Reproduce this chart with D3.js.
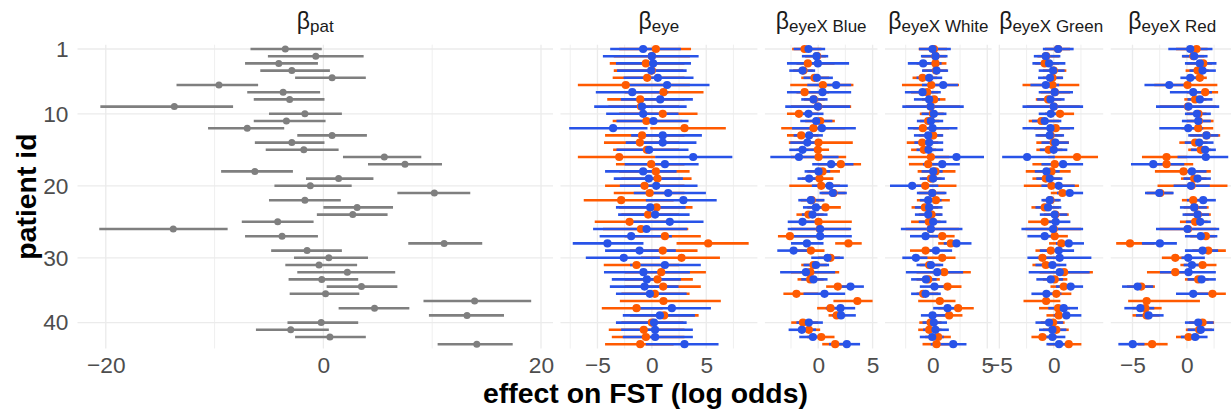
<!DOCTYPE html>
<html>
<head>
<meta charset="utf-8">
<script src="https://cdn.jsdelivr.net/npm/d3@7"></script>
<style>
  body { margin: 0; background: #fff; }
  text { font-family: "Liberation Sans", Arial, Helvetica, sans-serif; }
</style>
</head>
<body>
<div id="chart"></div>
<script>
var svgWidth = 1231;
var svgHeight = 414;

// patient ids (33 is absent)
var ids = [1,2,3,4,5,6,7,8,9,10,11,12,13,14,15,16,17,18,19,20,21,22,23,24,25,26,27,28,29,30,31,32,
           34,35,36,37,38,39,40,41,42,43];
var yTicks = [1, 10, 20, 30, 40];

// beta_pat: lower, estimate, upper
var patLo  = [-6.7,-5.1,-7.2,-5.8,-2.6,-13.5,-7.0,-6.4,-20.5,-5.0,-6.4,-10.6,-2.4,-6.3,-5.3,1.8,4.1,-9.4,-1.6,-4.5,6.8,-5.0,0.0,-0.6,-7.5,-20.6,
              -7.2,7.8,-4.8,-2.7,-3.5,-2.4,-3.2,0.3,-3.1,9.2,1.4,9.7,-3.3,-6.2,-2.6,10.5];
var patEst = [-3.5,-0.7,-4.1,-2.9,0.8,-9.6,-3.7,-3.1,-13.7,-1.7,-3.4,-7.0,0.8,-2.9,-1.8,5.6,7.5,-6.3,1.4,-1.2,10.2,-1.7,3.1,2.7,-4.2,-13.8,
              -3.8,11.1,-1.5,0.5,-0.4,2.2,-0.15,3.5,0.2,13.9,4.7,13.2,-0.2,-3.0,0.6,14.1];
var patHi  = [-0.15,3.7,-0.5,0.6,3.9,-6.0,-0.3,0.1,-8.3,1.7,0.2,-3.6,4.0,0.1,1.4,9.0,10.9,-2.8,4.6,2.6,13.5,1.6,6.4,5.9,-0.9,-8.8,
              -0.5,14.6,1.7,4.1,3.1,6.6,3.2,6.8,3.3,19.1,7.9,16.6,3.2,0.5,3.9,17.4];

// eye effects: [lower, estimate, upper] per patient, orange and blue series
var eyeOrange = [[-3.0,0.37,3.6],[-3.5,0.0,3.5],[-3.87,-0.55,3.0],[-3.5,0.0,2.9],[-3.6,-0.43,3.0],[-6.8,-2.4,3.5],[-2.5,1.07,4.75],
  [-4.1,-1.07,3.0],[-4.0,-1.0,2.5],[-3.0,1.0,4.2],[-3.6,-0.5,2.8],[-0.15,3.0,6.8],[-4.3,-0.9,3.0],[-4.4,-1.1,2.5],[-3.56,-0.46,2.5],
  [-6.8,-3.0,0.3],[-3.3,-0.06,3.0],[-3.0,0.37,3.47],[-2.8,0.52,3.65],[-4.3,-0.67,3.0],[-3.5,-0.2,3.0],[-6.26,-2.82,2.0],[-3.0,0.43,3.74],
  [-2.8,-0.34,2.5],[-5.25,-2.05,1.5],[-4.5,-1.0,3.35],[-2.5,1.2,4.5],[2.27,5.18,8.9],[-2.0,1.0,4.2],[-1.0,2.73,6.26],[-4.42,-1.41,2.5],
  [-2.5,0.86,4.97],[-2.5,0.52,3.77],[-2.5,1.04,4.5],[-2.8,0.28,3.47],[-2.94,1.07,6.34],[-4.6,-1.41,1.0],[-2.0,1.13,4.3],[-2.8,0.0,2.9],
  [-3.96,-0.74,3.0],[-3.68,-0.55,3.0],[-4.3,-1.07,2.0]];
var eyeBlue = [[-3.83,-0.8,2.67],[-4.5,0.0,4.3],[-3.3,0.12,3.6],[-3.2,-0.06,3.2],[-2.6,0.55,3.83],[-2.4,1.4,5.3],[-5.15,-1.8,1.5],
  [-2.85,0.77,3.77],[-5.3,-0.9,3.2],[-4.2,-0.8,2.45],[-3.25,0.15,3.37],[-7.6,-3.56,-0.4],[-1.9,1.0,4.6],[-2.4,1.0,4.1],[-3.25,-0.25,3.37],
  [0.3,3.8,7.4],[-2.5,1.2,4.3],[-4.3,-0.8,2.27],[-3.5,-0.28,2.85],[-2.94,0.4,4.2],[-1.66,1.5,4.97],[-0.55,2.9,5.96],[-3.3,-0.15,3.1],
  [-3.1,0.3,3.47],[-1.8,1.65,4.75],[-5.4,-0.49,3.25],[-4.8,-1.9,1.84],[-7.27,-4.08,-0.77],[-4.3,-1.13,2.2],[-6.07,-2.58,0.74],[-2.0,1.2,4.5],
  [-4.4,-0.77,3.5],[-3.68,-0.46,2.67],[-3.86,-0.67,2.45],[-3.3,-0.18,3.2],null,[-1.1,1.84,5.43],[-2.67,0.74,3.96],[-3.3,0.2,3.2],
  [-2.82,0.3,3.77],[-2.67,0.3,3.77],[-0.55,3.0,6.13]];

var blueOrange = [[-2.4,-1.25,0.3],[-1.2,-0.1,0.7],[-2.0,-0.95,1.5],[-2.3,-1.35,-0.5],[-1.56,-0.34,1.0],[-2.57,0.43,3.24],[-2.0,-1.25,1.0],
  [-1.3,-0.4,0.6],[-2.5,0.0,3.03],[-2.87,-1.77,0.0],[-1.2,0.18,1.53],[-3.4,-0.43,2.5],[-2.87,-1.56,0.0],[-2.7,0.03,3.18],[-2.0,-0.03,1.0],
  [-2.5,0.03,2.57],[0.0,2.08,3.94],[-1.0,0.4,2.0],[-1.5,0.12,1.4],[-2.66,0.28,2.0],[0.3,1.4,2.5],[-1.6,-0.6,0.5],[-1.0,0.67,2.08],
  [-2.0,-0.89,0.5],[-1.5,0.03,3.09],[-2.5,0.15,2.9],[-3.7,-2.6,0.5],[1.56,2.78,4.0],[-2.5,-0.67,0.58],[0.0,1.13,2.0],[-1.56,-0.43,0.8],
  [-2.5,-0.73,1.93],[-1.9,-0.73,0.5],[0.73,1.8,3.0],[-3.2,-2.0,0.0],[1.4,3.6,5.0],[-0.1,1.13,2.0],[0.95,1.7,2.5],[-2.48,-1.4,0.0],
  [-1.8,-0.86,0.18],[-1.0,0.28,1.5],[0.37,1.56,2.5]];
var blueBlue = [[-2.26,-0.89,0.64],[-1.5,-0.15,0.92],[-2.87,-0.03,2.84],[-2.66,-1.44,-0.28],[-1.35,-0.12,1.35],[-1.0,1.65,3.03],[-2.87,0.4,3.03],
  [-1.56,-0.43,0.86],[-3.03,-0.03,2.94],[-1.65,-0.89,0.49],[-1.65,-0.18,1.3],[-2.4,0.34,3.46],[-2.26,-0.83,0.43],[-2.57,-1.0,0.2],[-2.66,-1.44,0.0],
  [-4.4,-1.77,1.87],[-0.55,1.19,3.24],[-1.25,0.03,1.1],[-1.9,-0.83,0.2],[-0.58,1.04,2.72],[0.12,1.35,2.63],[-1.83,-0.67,0.58],[-1.4,-0.21,0.8],
  [-1.5,-0.52,0.86],[-2.8,-1.44,0.0],[-2.8,0.18,3.03],[-2.5,0.18,3.09],[-2.5,-1.04,0.49],[-3.76,-2.26,-1.0],[-0.64,0.86,2.35],[-1.35,-0.21,1.0],
  [-3.5,-1.13,1.56],[-1.56,-0.43,0.86],[1.8,2.97,4.2],[-1.35,0.58,2.48],null,[0.7,2.05,3.4],[1.3,2.1,3.46],[-2.0,-0.86,0.43],
  [-2.72,-1.5,-0.2],[-1.74,-0.49,0.2],[1.0,2.63,3.85]];

var whiteOrange = [[-1.3,0.1,1.3],[-1.0,0.24,1.2],[-1.5,0.24,1.25],[-0.9,0.3,1.3],[-1.87,-0.95,0.4],[-2.84,-0.15,2.4],[-2.0,-0.52,0.5],
  [-1.0,0.12,1.16],[-2.5,-0.2,2.5],[-1.2,0.0,1.0],[-1.2,-0.43,0.6],[-1.8,-0.92,1.5],[-1.3,0.03,0.9],[-2.4,-0.98,0.5],[-2.0,-0.83,0.3],
  [-2.3,-0.18,1.5],[-2.2,-0.43,0.5],[-1.4,0.24,2.08],[-1.0,-0.18,0.8],[-1.5,-0.7,2.17],[-1.3,-0.05,1.1],[-1.47,0.28,1.56],[-1.96,-0.73,0.5],
  [-1.3,-0.12,0.8],[-2.0,-0.37,0.7],[-2.5,-0.2,2.4],[-0.8,0.86,2.0],[0.49,1.65,2.5],[-2.1,-0.67,0.5],[-1.3,0.86,2.08],[-1.2,-0.34,0.7],
  [-1.5,1.04,3.49],[-1.5,-0.43,0.64],[-0.3,1.35,2.63],[-1.5,-0.89,0.5],[-1.35,0.64,2.08],[0.5,2.32,3.76],[0.0,1.5,2.72],[-1.25,-0.21,0.8],
  [-1.35,-0.34,0.8],[-0.7,0.49,1.65],[-0.95,0.34,1.5]];
var whiteBlue = [[-1.28,-0.03,1.65],[-1.1,0.24,1.35],[-2.3,-0.89,0.8],[-1.0,0.34,1.4],[-1.5,-0.34,0.86],[-1.0,0.95,2.32],[-2.57,-0.95,0.73],
  [-1.74,-0.34,0.64],[-2.81,-0.21,2.84],[-1.04,0.09,1.25],[-1.47,-0.18,0.95],[-2.3,-0.03,2.26],[-1.74,-0.43,0.95],[-1.7,-0.34,0.95],[-1.5,-0.4,0.95],
  [-0.18,2.17,4.7],[-0.9,0.86,2.48],[-1.04,0.03,0.9],[-1.2,0.03,1.1],[-3.94,-1.9,0.5],[-1.47,-0.06,1.25],[-1.2,-0.43,0.8],[-1.65,-0.34,0.89],
  [-1.65,-0.43,0.89],[-1.3,0.03,1.25],[-2.94,-0.18,2.72],[-2.1,-0.67,0.5],[1.0,2.17,3.55],[-1.0,0.28,1.77],[-2.81,-1.56,-0.5],[-1.5,-0.18,0.95],
  [-2.48,0.4,2.78],[-2.0,-0.64,0.34],[-1.2,0.15,1.2],[-2.0,-0.67,0.73],null,[0.03,1.35,2.5],[-1.1,-0.03,1.2],[-0.95,0.09,1.3],
  [-0.89,0.24,1.47],[-1.2,-0.06,1.0],[-0.2,1.87,3.09]];

var greenOrange = [[-0.8,0.4,1.5],[-1.5,-0.7,0.5],[-1.7,-0.83,0.5],[-1.0,0.0,1.16],[-1.0,-0.12,0.8],[-2.87,-0.12,2.35],[-1.2,0.1,1.5],
  [-1.65,-0.52,0.7],[-2.5,0.0,2.4],[-0.8,0.58,1.87],[-2.3,-1.13,0.5],[-1.8,0.18,1.5],[-1.5,-0.3,0.8],[-1.6,0.0,1.4],[-1.6,-0.46,0.8],
  [-0.5,2.14,4.07],[-1.96,0.09,1.0],[-2.57,-0.21,1.56],[-1.96,-0.73,0.6],[-2.75,-0.21,2.32],[-0.27,0.8,1.7],[-1.0,-0.3,0.5],[-2.05,-0.83,0.5],
  [-0.9,0.15,1.38],[-2.35,-0.83,0.5],[-2.6,0.0,2.5],[-1.0,0.09,1.3],[-0.43,0.7,1.5],[-1.68,-0.27,1.0],[-1.5,-1.04,0.5],[-1.96,-0.73,0.6],
  [-1.3,0.95,3.6],[-1.0,0.09,1.25],[-0.3,0.92,1.8],[-1.0,0.24,1.62],[-2.78,-0.7,0.61],[-1.35,0.4,1.5],[-0.67,0.46,1.5],[-1.2,-0.06,1.0],
  [-1.0,0.24,1.38],[-2.05,-1.04,0.3],[-0.5,1.38,2.54]];
var greenBlue = [[-1.0,0.4,1.83],[-1.83,-0.73,0.61],[-1.96,-0.43,1.07],[-1.38,-0.06,1.0],[-1.44,-0.34,0.86],[-2.14,-0.73,0.5],[-1.38,0.09,1.77],
  [-1.53,-0.3,1.0],[-2.87,0.0,2.7],[-1.38,-0.27,0.4],[-2.0,-0.83,0.7],[-2.87,-0.3,1.87],[-1.68,-0.37,0.95],[-1.13,0.15,1.38],[-1.28,0.0,1.25],
  [-4.74,-2.45,0.1],[-1.13,0.86,2.7],[-1.74,-0.67,0.55],[-1.6,-0.37,0.8],[-1.13,0.46,1.93],[0.3,1.47,2.7],[-1.13,-0.37,0.64],[-1.68,-0.52,0.7],
  [-1.28,0.09,1.25],[-0.9,0.18,1.53],[-2.97,-0.06,2.7],[-2.42,-0.83,0.4],[0.2,1.38,2.78],[-1.28,0.46,1.87],[-2.42,0.55,3.46],[-1.68,-0.12,1.16],
  [-2.3,0.55,3.3],[-1.6,-0.27,0.86],[0.2,1.56,2.7],[-2.05,-0.67,0.7],null,[-0.5,0.92,2.23],[0.0,1.16,2.54],[-1.68,-0.43,0.86],
  [-1.35,-0.12,1.16],[-1.2,-0.12,1.07],[-0.67,0.49,1.5]];

var redOrange = [[-1.0,0.89,1.9],[-0.4,0.6,1.6],[0.0,1.5,2.3],[-0.12,0.98,2.0],[0.0,1.19,1.83],[-3.0,0.06,2.8],[0.0,1.68,2.87],
  [-0.24,0.76,1.8],[-2.5,0.1,2.7],[0.0,1.07,1.8],[0.0,1.1,2.45],[-0.5,1.04,2.42],[0.3,1.8,3.06],[-0.7,0.76,1.9],[0.12,1.28,2.2],
  [-4.13,-1.87,0.0],[-3.5,-1.87,0.58],[-2.94,-0.31,2.2],[-0.55,0.67,1.8],[-2.7,0.43,3.73],[-3.7,-2.45,-1.3],[-0.46,0.58,1.6],[-0.3,0.7,2.0],
  [-0.2,1.0,2.2],[-0.64,0.76,1.9],[-2.5,0.1,2.7],[0.3,1.74,2.6],[-6.5,-5.23,-3.0],[0.5,1.96,3.58],[-2.3,-1.07,0.5],[-0.6,1.44,2.72],
  [-3.67,-1.07,0.5],[-0.18,1.04,2.0],[-5.5,-4.2,-2.94],[0.5,2.35,3.58],[-5.4,-3.7,1.2],[-5.0,-3.82,-2.32],[-5.0,-3.7,-2.5],[0.2,1.44,2.5],
  [-0.1,1.13,2.3],[-1.0,0.15,1.2],[-4.5,-3.2,-1.77]];
var redBlue = [[-1.71,0.31,2.35],[-0.46,0.67,1.9],[-0.18,1.19,2.72],[0.24,1.44,2.66],[-0.6,0.31,1.5],[-3.9,-1.62,0.0],[-1.56,0.58,2.3],
  [0.06,1.19,2.35],[-2.84,0.15,2.97],[-0.18,0.92,2.2],[-0.46,1.04,2.2],[-2.54,0.12,1.5],[0.12,1.8,2.9],[-0.2,1.13,2.45],[0.37,1.68,2.66],
  [-0.86,1.74,3.8],[-5.14,-3.09,-0.24],[-0.5,0.46,1.8],[-0.31,0.98,2.2],[-1.22,0.37,2.1],[-3.85,-2.54,-1.22],[0.0,1.5,2.66],[-0.64,0.67,1.83],
  [-0.4,0.98,2.05],[-0.1,1.22,2.2],[-2.84,0.06,2.97],[-0.18,1.28,2.8],[-4.13,-2.48,-0.92],[-0.18,1.44,2.87],[-0.5,0.12,1.65],[-0.3,0.46,1.5],
  [-2.48,0.15,2.66],[0.06,1.35,2.66],[-5.96,-4.53,-3.1],[-1.0,0.58,2.0],null,[-5.75,-4.28,-3.0],[-4.68,-3.52,-2.14],[-0.18,1.04,2.45],
  [0.06,1.28,2.5],[-0.55,0.76,1.9],[-6.3,-4.98,-3.9]];

// facet strips, x limits and breaks
var panels = [
  {sub: "pat",        lim: [-22.6, 21.1], major: [-20, 0, 20], minor: [-10, 10]},
  {sub: "eye",        lim: [-8.4, 9.7],   major: [-5, 0, 5],   minor: [-7.5, -2.5, 2.5, 7.5], orange: eyeOrange,   blue: eyeBlue},
  {sub: "eyeX Blue",  lim: [-4.9, 5.45],  major: [0, 5],       minor: [-2.5, 2.5],            orange: blueOrange,  blue: blueBlue},
  {sub: "eyeX White", lim: [-4.4, 5.4],   major: [0, 5],       minor: [-2.5, 2.5],            orange: whiteOrange, blue: whiteBlue},
  {sub: "eyeX Green", lim: [-5.02, 4.55], major: [-5, 0],      minor: [-2.5, 2.5],            orange: greenOrange, blue: greenBlue},
  {sub: "eyeX Red",   lim: [-7.0, 4.3],   major: [-5, 0],      minor: [-2.5, 2.5],            orange: redOrange,   blue: redBlue}
];

var colOrange = "#ff5a00";
var colBlue = "#2853e8";
var colGrey = "#7f7f7f";

var margin = {top: 44.7, bottom: 348.5, left: 77.5};
var pxPerUnit = 10.88;
var gap = 7.5;

var svg = d3.select("#chart")
    .append("svg")
    .attr("width", svgWidth)
    .attr("height", svgHeight);

// discrete y scale, top to bottom
var step = (margin.bottom - margin.top) / (ids.length - 1 + 1.2);
var y = d3.scalePoint()
    .domain(ids)
    .range([margin.top + 0.6 * step, margin.bottom - 0.6 * step]);

var xPos = margin.left;
panels.forEach(function (p, i) {
    var w = (p.lim[1] - p.lim[0]) * pxPerUnit;
    var x = d3.scaleLinear().domain(p.lim).range([0, w]);
    var g = svg.append("g").attr("transform", `translate(${xPos}, 0)`);

    // grid
    g.selectAll(".hgrid").data(yTicks).enter().append("line")
        .attr("x1", 0).attr("x2", w)
        .attr("y1", d => y(d)).attr("y2", d => y(d))
        .attr("stroke", "#ebebeb").attr("stroke-width", 1.3);
    g.selectAll(".vminor").data(p.minor).enter().append("line")
        .attr("x1", d => x(d)).attr("x2", d => x(d))
        .attr("y1", margin.top).attr("y2", margin.bottom)
        .attr("stroke", "#ebebeb").attr("stroke-width", 0.8);
    g.selectAll(".vmajor").data(p.major).enter().append("line")
        .attr("x1", d => x(d)).attr("x2", d => x(d))
        .attr("y1", margin.top).attr("y2", margin.bottom)
        .attr("stroke", "#ebebeb").attr("stroke-width", 1.3);

    // x axis
    var xAxis = g.append("g")
        .attr("transform", `translate(0, ${margin.bottom})`)
        .call(d3.axisBottom(x).tickValues(p.major).tickSize(0).tickPadding(8).tickFormat(d3.format("d")));
    xAxis.select(".domain").remove();
    xAxis.selectAll("text")
        .attr("font-size", 22.7)
        .attr("fill", "#4d4d4d")
        .attr("font-family", "Liberation Sans, Arial, sans-serif");

    // strip title
    var strip = g.append("text")
        .attr("x", w / 2)
        .attr("y", 28.5)
        .attr("text-anchor", "middle")
        .attr("fill", "#1a1a1a");
    strip.append("tspan").attr("font-size", 23).text("\u03b2");
    strip.append("tspan").attr("font-size", 17).attr("dy", 3.2).text(p.sub);

    if (i === 0) {
        var rows = ids.map((id, k) => ({id: id, lo: patLo[k], est: patEst[k], hi: patHi[k]}));
        g.selectAll(".pline").data(rows).enter().append("line")
            .attr("x1", d => x(d.lo)).attr("x2", d => x(d.hi))
            .attr("y1", d => y(d.id)).attr("y2", d => y(d.id))
            .attr("stroke", colGrey).attr("stroke-width", 2.6);
        g.selectAll(".ppt").data(rows).enter().append("circle")
            .attr("cx", d => x(d.est)).attr("cy", d => y(d.id))
            .attr("r", 3.5).attr("fill", colGrey);
    } else {
        var series = [
            {col: colOrange, vals: p.orange},
            {col: colBlue, vals: p.blue}
        ].map(s => ({col: s.col, rows: ids.map((id, k) => s.vals[k] ? {id: id, lo: s.vals[k][0], est: s.vals[k][1], hi: s.vals[k][2]} : null).filter(d => d)}));

        // all ranges first, then all points
        series.forEach(function (s) {
            g.selectAll(null).data(s.rows).enter().append("line")
                .attr("x1", d => x(d.lo)).attr("x2", d => x(d.hi))
                .attr("y1", d => y(d.id)).attr("y2", d => y(d.id))
                .attr("stroke", s.col).attr("stroke-width", 2.6);
        });
        series.forEach(function (s) {
            g.selectAll(null).data(s.rows).enter().append("circle")
                .attr("cx", d => x(d.est)).attr("cy", d => y(d.id))
                .attr("r", 4.1).attr("fill", s.col);
        });
    }

    xPos += w + gap;
});

// y axis labels
var yAxis = svg.append("g")
    .attr("transform", `translate(${margin.left}, 0)`)
    .call(d3.axisLeft(y).tickValues(yTicks).tickSize(0).tickPadding(9));
yAxis.select(".domain").remove();
yAxis.selectAll("text")
    .attr("font-size", 22.7)
    .attr("fill", "#4d4d4d")
    .attr("font-family", "Liberation Sans, Arial, sans-serif");

// axis titles
svg.append("text")
    .attr("transform", "rotate(-90)")
    .attr("x", -(margin.top + margin.bottom) / 2)
    .attr("y", 36)
    .attr("text-anchor", "middle")
    .attr("font-size", 28.4)
    .attr("font-weight", "bold")
    .text("patient id");

svg.append("text")
    .attr("x", 645.5)
    .attr("y", 403)
    .attr("text-anchor", "middle")
    .attr("font-size", 28.4)
    .attr("font-weight", "bold")
    .text("effect on FST (log odds)");
</script>
</body>
</html>
